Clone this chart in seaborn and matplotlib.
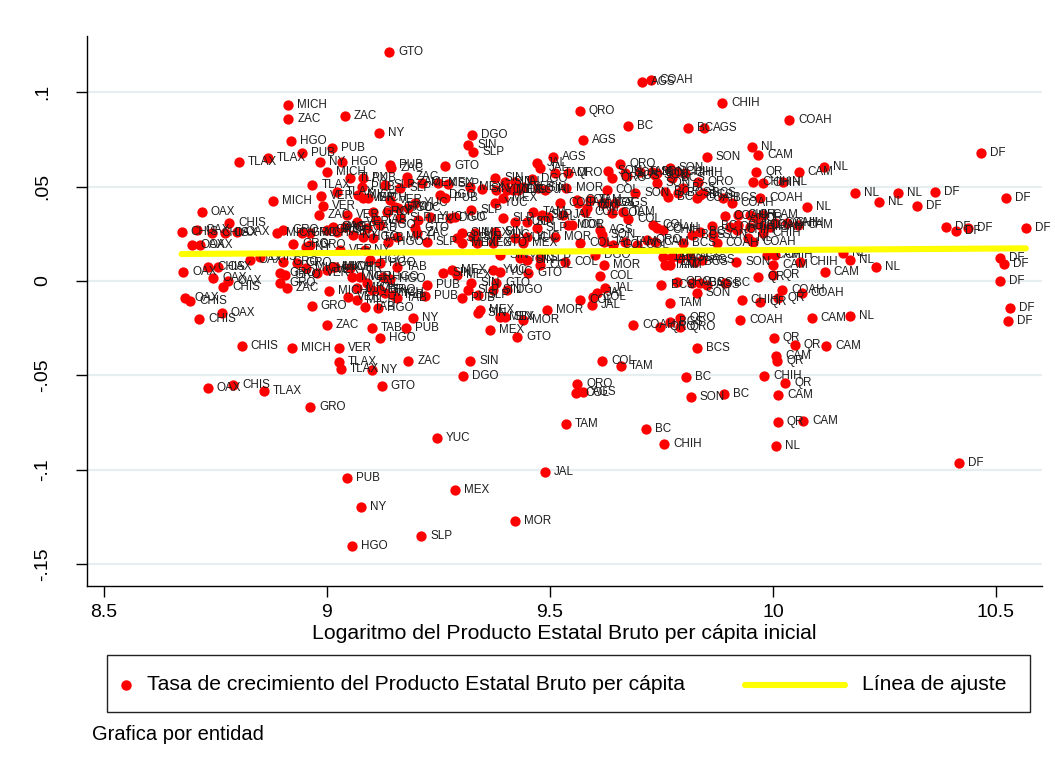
import matplotlib
matplotlib.use("Agg")
import matplotlib.pyplot as plt
from matplotlib.patches import Rectangle
from matplotlib.lines import Line2D
import seaborn as sns
import pandas as pd

# Entidad de cada observación
entidad = [
    "TLAX", "TLAX", "PUB", "HGO", "MICH", "ZAC", "PUB", "NY", "MICH", "TLAX",
    "VER", "VER", "ZAC", "MICH", "OAX", "CHIS", "CHIS", "OAX", "CHIS", "OAX",
    "OAX", "MICH", "GRO", "GRO", "MICH", "GRO", "ZAC", "OAX", "OAX", "GRO",
    "NY", "GRO", "OAX", "CHIS", "CHIS", "OAX", "OAX", "OAX", "OAX", "CHIS",
    "GRO", "GRO", "GRO", "GRO", "GRO", "ZAC", "MICH", "VER", "VER", "MICH",
    "MICH", "OAX", "CHIS", "GRO", "OAX", "CHIS", "ZAC", "CHIS", "MICH", "OAX",
    "CHIS", "TLAX", "GRO",
    "HGO", "PUB", "ZAC", "GTO", "SIN", "SLP", "DGO", "NY", "ZAC", "GTO",
    "TLAX", "PUB", "ZAC", "MEX", "MEX", "SLP", "PUB", "SLP", "SLP", "ZAC",
    "TLAX", "MICH", "VER", "MICH", "VER", "YUC", "DGO", "PUB", "MEX", "SIN",
    "SIN", "YUC", "GTO", "HGO", "YUC", "NY", "SLP", "YUC", "DGO", "VER",
    "VER", "GRO", "TAB", "SLP", "YUC", "MEX", "GTO", "MICH", "VER", "TAB",
    "HGO", "SIN", "MEX", "SIN", "TAB", "NY", "HGO", "TAB", "HGO", "MICH",
    "ZAC", "SLP", "SLP", "MEX", "SIN", "MEX", "VER", "NY", "MICH", "VER",
    "HGO", "HGO", "TAB", "MICH", "VER", "ZAC", "HGO", "HGO", "MICH", "VER",
    "GRO", "MICH", "TAB", "VER", "MICH", "TAB", "HGO", "PUB", "PUB", "SIN",
    "MEX", "MEX", "SIN", "SLP", "SLP", "YUC", "GTO", "SIN", "TAB", "PUB",
    "NY", "MEX", "SIN", "TAB", "HGO", "PUB", "VER", "TLAX", "TLAX", "NY",
    "ZAC", "SIN", "DGO", "GTO", "YUC", "PUB", "MEX", "NY", "HGO", "SLP",
    "MOR", "JAL", "MEX", "GTO",
    "AGS", "AGS", "JAL", "JAL", "TAM", "QRO", "QRO", "BC", "SON", "QRO",
    "QRO", "SON", "AGS", "TAM", "SON", "SON", "SIN", "JAL", "DGO", "YUC",
    "MEX", "YUC", "SLP", "DGO", "SIN", "JAL", "MOR", "COL", "SON", "MEX",
    "COL", "COL", "TAM", "TAM", "AGS", "COL", "AGS", "TAM", "SLP", "JAL",
    "SLP", "YUC", "SIN", "JAL", "MOR", "COL", "COL", "TAM", "COL", "TAM",
    "COL", "AGS", "SLP", "COL", "COAH", "YUC", "MEX", "YUC", "MOR", "COL",
    "SON", "JAL", "COL", "TAM", "COL", "QRO", "CAM", "YUC", "GTO", "SIN",
    "YUC", "SIN", "SLP", "COL", "COL", "DGO", "MOR", "COL", "YUC", "GTO",
    "DGO", "JAL", "JAL", "COL", "JAL", "COL", "MOR", "MEX", "SIN", "MOR",
    "COAH", "QRO", "COL", "AGS", "COL", "TAM", "TAM", "BC",
    "COAH", "AGS", "CHIH", "COAH", "BC", "AGS", "NL", "CAM", "SON", "QR",
    "CAM", "CHIH", "CHIH", "NL", "SON", "CHIH", "BC", "BCS", "CHIH", "QRO",
    "SON", "BCS", "BC", "BC", "BCS", "COAH", "BCS", "BCS", "BCS", "COAH",
    "COAH", "NL", "COAH", "CHIH", "QR", "QR", "CAM", "QR", "CHIH", "CHIH",
    "COAH", "CAM", "COAH", "CHIH", "CAM", "BC", "BC", "CHIH", "BCS", "SON",
    "CHIH", "NL", "CHIH", "BCS", "COAH", "COAH", "TAM", "BCS", "AGS", "AGS",
    "BCS", "AGS", "TAM", "TAM", "SON", "CAM", "CAM", "CHIH", "CHIH", "QR",
    "QR", "BCS", "QRO", "AGS", "BCS", "AGS", "BC", "SON", "COAH", "COAH",
    "QR", "CHIH", "QR", "TAM", "COAH", "CAM", "BCS", "QRO", "QRO", "QRO",
    "BCS", "BC", "SON", "BC", "CHIH", "QR", "CAM", "QR", "CAM", "NL",
    "CHIH", "QR", "CAM", "QR", "QR", "CAM", "NL",
    "DF", "NL", "NL", "NL", "DF", "NL", "DF", "DF", "DF", "DF",
    "DF", "DF", "NL", "NL", "NL", "CAM", "DF", "DF", "DF", "DF",
    "DF", "DF",
]

# Logaritmo del PIB estatal per cápita inicial
log_pib_inicial = [
    8.803, 8.868, 8.943, 8.919, 8.913, 8.913, 9.011, 8.984, 8.999, 8.967,
    8.987, 8.992, 8.981, 8.880, 8.719, 8.780, 8.674, 8.708, 8.742, 8.771,
    8.798, 8.887, 8.902, 8.943, 8.962, 8.999, 9.014, 8.697, 8.715, 8.924,
    8.954, 8.962, 8.827, 8.850, 8.734, 8.756, 8.678, 8.745, 8.779, 8.767,
    8.902, 8.932, 8.895, 8.906, 8.895, 8.910, 8.954, 8.977, 8.999, 9.014,
    9.005, 8.682, 8.693, 8.966, 8.764, 8.713, 8.999, 8.809, 8.922, 8.733,
    8.789, 8.859, 8.962,
    9.033, 9.141, 9.144, 9.265, 9.317, 9.328, 9.325, 9.117, 9.040, 9.139,
    9.052, 9.081, 9.179, 9.212, 9.250, 9.272, 9.078, 9.130, 9.164, 9.182,
    9.022, 9.070, 9.081, 9.093, 9.141, 9.197, 9.253, 9.265, 9.321, 9.347,
    9.377, 9.377, 9.152, 9.160, 9.182, 9.134, 9.324, 9.287, 9.276, 9.044,
    9.067, 9.104, 9.111, 9.164, 9.231, 9.205, 9.197, 9.014, 9.040, 9.089,
    9.119, 9.302, 9.332, 9.377, 9.022, 9.059, 9.081, 9.104, 9.137, 9.156,
    9.201, 9.224, 9.291, 9.302, 9.328, 9.336, 9.029, 9.085, 9.018, 9.052,
    9.096, 9.119, 9.156, 9.055, 9.074, 9.089, 9.126, 9.141, 9.067, 9.100,
    9.119, 9.130, 9.149, 9.048, 9.067, 9.085, 9.115, 9.224, 9.220, 9.261,
    9.280, 9.291, 9.324, 9.317, 9.339, 9.373, 9.380, 9.373, 9.156, 9.302,
    9.193, 9.343, 9.339, 9.100, 9.119, 9.177, 9.027, 9.027, 9.031, 9.101,
    9.182, 9.321, 9.305, 9.123, 9.247, 9.045, 9.287, 9.076, 9.056, 9.211,
    9.422, 9.489, 9.365, 9.426,
    9.575, 9.506, 9.472, 9.478, 9.511, 9.540, 9.567, 9.675, 9.631, 9.638,
    9.657, 9.668, 9.672, 9.702, 9.728, 9.735, 9.399, 9.422, 9.429, 9.380,
    9.403, 9.418, 9.440, 9.459, 9.474, 9.489, 9.537, 9.627, 9.691, 9.395,
    9.522, 9.560, 9.563, 9.590, 9.616, 9.623, 9.646, 9.463, 9.481, 9.496,
    9.395, 9.422, 9.448, 9.530, 9.541, 9.549, 9.579, 9.582, 9.638, 9.664,
    9.676, 9.612, 9.470, 9.732, 9.739, 9.422, 9.440, 9.448, 9.511, 9.567,
    9.616, 9.620, 9.642, 9.668, 9.694, 9.717, 9.735, 9.380, 9.373, 9.388,
    9.433, 9.448, 9.478, 9.478, 9.534, 9.601, 9.620, 9.612, 9.388, 9.451,
    9.403, 9.623, 9.605, 9.597, 9.594, 9.567, 9.493, 9.388, 9.399, 9.440,
    9.687, 9.561, 9.558, 9.574, 9.617, 9.659, 9.536, 9.715,
    9.726, 9.706, 9.886, 10.036, 9.809, 9.845, 9.952, 9.967, 9.851, 9.963,
    10.058, 9.956, 9.978, 10.023, 9.769, 9.784, 9.739, 9.773, 9.803, 9.833,
    9.739, 9.799, 9.758, 9.765, 9.788, 9.829, 9.836, 9.844, 9.889, 9.907,
    9.971, 10.076, 9.892, 9.922, 9.948, 9.963, 9.978, 9.904, 9.922, 9.948,
    9.971, 9.993, 10.005, 10.031, 10.057, 9.863, 9.836, 9.754, 9.818, 9.866,
    9.919, 9.945, 9.978, 9.799, 9.874, 9.956, 9.754, 9.773, 9.792, 9.814,
    9.825, 9.840, 9.758, 9.769, 9.918, 10.001, 9.986, 10.005, 10.061, 9.967,
    10.001, 9.750, 9.784, 9.818, 9.836, 9.851, 9.892, 9.829, 10.020, 10.064,
    10.012, 9.930, 9.971, 9.769, 9.926, 10.087, 9.769, 9.792, 9.792, 9.747,
    9.830, 9.805, 9.816, 9.890, 9.980, 10.027, 10.011, 10.011, 10.067, 10.007,
    9.756, 10.002, 10.007, 10.009, 10.049, 10.119, 10.173,
    10.466, 10.114, 10.184, 10.281, 10.363, 10.238, 10.322, 10.522, 10.388, 10.410,
    10.437, 10.567, 10.158, 10.173, 10.231, 10.116, 10.509, 10.519, 10.509, 10.531,
    10.528, 10.417,
]

# Tasa de crecimiento del PIB estatal per cápita
tasa_crecimiento = [
    0.0632, 0.0650, 0.0680, 0.0742, 0.0932, 0.0858, 0.0704, 0.0632, 0.0579, 0.0508,
    0.0450, 0.0399, 0.0350, 0.0424, 0.0367, 0.0309, 0.0261, 0.0270, 0.0254, 0.0256,
    0.0261, 0.0256, 0.0270, 0.0254, 0.0254, 0.0270, 0.0288, 0.0191, 0.0191, 0.0196,
    0.0182, 0.0191, 0.0111, 0.0129, 0.0076, 0.0076, 0.0046, 0.0014, 0.0002, -0.0030,
    0.0099, 0.0094, 0.0041, 0.0032, -0.0012, -0.0039, 0.0067, 0.0041, 0.0058, 0.0076,
    -0.0051, -0.0092, -0.0104, -0.0132, -0.0171, -0.0201, -0.0233, -0.0344, -0.0355, -0.0567,
    -0.0551, -0.0583, -0.0667,
    0.0629, 0.0614, 0.0599, 0.0611, 0.0720, 0.0685, 0.0773, 0.0784, 0.0874, 0.1213,
    0.0544, 0.0547, 0.0549, 0.0517, 0.0517, 0.0514, 0.0499, 0.0508, 0.0491, 0.0526,
    0.0473, 0.0456, 0.0438, 0.0438, 0.0429, 0.0415, 0.0456, 0.0438, 0.0499, 0.0486,
    0.0544, 0.0412, 0.0394, 0.0385, 0.0385, 0.0367, 0.0376, 0.0341, 0.0332, 0.0350,
    0.0314, 0.0367, 0.0323, 0.0332, 0.0341, 0.0323, 0.0279, 0.0279, 0.0288, 0.0279,
    0.0297, 0.0253, 0.0253, 0.0261, 0.0261, 0.0244, 0.0235, 0.0226, 0.0208, 0.0235,
    0.0253, 0.0208, 0.0226, 0.0200, 0.0235, 0.0200, 0.0164, 0.0164, 0.0076, 0.0067,
    0.0111, 0.0094, 0.0076, 0.0023, 0.0023, -0.0012, 0.0023, 0.0009, -0.0039, -0.0048,
    -0.0048, -0.0065, -0.0074, -0.0083, -0.0101, -0.0136, -0.0145, -0.0021, -0.0079, 0.0041,
    0.0058, 0.0032, -0.0012, -0.0048, -0.0074, 0.0058, -0.0012, -0.0048, -0.0092, -0.0092,
    -0.0198, -0.0154, -0.0171, -0.0251, -0.0302, -0.0249, -0.0355, -0.0429, -0.0466, -0.0471,
    -0.0424, -0.0424, -0.0503, -0.0556, -0.0832, -0.1043, -0.1107, -0.1197, -0.1404, -0.1351,
    -0.1271, -0.1012, -0.0260, -0.0297,
    0.0747, 0.0658, 0.0627, 0.0597, 0.0570, 0.0574, 0.0900, 0.0821, 0.0584, 0.0544,
    0.0620, 0.0570, 0.0556, 0.0579, 0.0579, 0.0561, 0.0526, 0.0526, 0.0482, 0.0482,
    0.0482, 0.0482, 0.0499, 0.0539, 0.0491, 0.0482, 0.0491, 0.0482, 0.0468, 0.0438,
    0.0415, 0.0429, 0.0412, 0.0429, 0.0412, 0.0412, 0.0412, 0.0367, 0.0350, 0.0337,
    0.0332, 0.0314, 0.0314, 0.0350, 0.0297, 0.0297, 0.0367, 0.0385, 0.0362, 0.0367,
    0.0328, 0.0270, 0.0279, 0.0297, 0.0279, 0.0226, 0.0200, 0.0235, 0.0235, 0.0200,
    0.0244, 0.0208, 0.0191, 0.0208, 0.0191, 0.0217, 0.0208, 0.0244, 0.0200, 0.0138,
    0.0120, 0.0111, 0.0120, 0.0085, 0.0102, 0.0138, 0.0085, 0.0028, 0.0049, 0.0041,
    -0.0048, -0.0039, -0.0065, -0.0083, -0.0127, -0.0101, -0.0154, -0.0189, -0.0189, -0.0207,
    -0.0233, -0.0546, -0.0593, -0.0588, -0.0424, -0.0450, -0.0757, -0.0784,
    0.1065, 0.1054, 0.0943, 0.0853, 0.0810, 0.0810, 0.0711, 0.0667, 0.0658, 0.0576,
    0.0576, 0.0526, 0.0517, 0.0526, 0.0597, 0.0579, 0.0570, 0.0544, 0.0570, 0.0526,
    0.0517, 0.0491, 0.0473, 0.0447, 0.0465, 0.0438, 0.0456, 0.0465, 0.0438, 0.0412,
    0.0438, 0.0394, 0.0344, 0.0350, 0.0350, 0.0332, 0.0350, 0.0288, 0.0297, 0.0288,
    0.0297, 0.0288, 0.0306, 0.0306, 0.0297, 0.0291, 0.0261, 0.0270, 0.0244, 0.0244,
    0.0270, 0.0226, 0.0253, 0.0200, 0.0200, 0.0208, 0.0129, 0.0129, 0.0120, 0.0129,
    0.0102, 0.0111, 0.0085, 0.0085, 0.0102, 0.0085, 0.0138, 0.0138, 0.0102, 0.0023,
    0.0032, -0.0021, -0.0004, -0.0012, -0.0012, -0.0021, -0.0012, -0.0065, -0.0048, -0.0065,
    -0.0092, -0.0101, -0.0110, -0.0118, -0.0207, -0.0198, -0.0216, -0.0198, -0.0242, -0.0244,
    -0.0355, -0.0508, -0.0614, -0.0599, -0.0503, -0.0540, -0.0604, -0.0747, -0.0742, -0.0874,
    -0.0863, -0.0302, -0.0397, -0.0424, -0.0339, -0.0344, -0.0185,
    0.0680, 0.0605, 0.0465, 0.0465, 0.0470, 0.0420, 0.0397, 0.0438, 0.0288, 0.0265,
    0.0279, 0.0281, 0.0147, 0.0111, 0.0076, 0.0046, 0.0120, 0.0090, 0.0000, -0.0145,
    -0.0210, -0.0964,
]

# Extremos de la línea de ajuste
ajuste_x = [8.674, 10.567]
ajuste_y = [0.0143, 0.0173]

y_ticks = [-0.15, -0.10, -0.05, 0.0, 0.05, 0.10]
y_tick_labels = ["-.15", "-.1", "-.05", "0", ".05", ".1"]
x_ticks = [8.5, 9.0, 9.5, 10.0, 10.5]
x_tick_labels = ["8.5", "9", "9.5", "10", "10.5"]

df = pd.DataFrame({"entidad": entidad, "x": log_pib_inicial, "y": tasa_crecimiento})
ajuste = pd.DataFrame({"x": ajuste_x, "y": ajuste_y})

sns.set_theme(style="white")
plt.rcParams["font.family"] = ["Liberation Sans", "DejaVu Sans"]

W, H = 1055, 776
fig = plt.figure(figsize=(W / 100, H / 100), dpi=100)
fig.patch.set_facecolor("white")
ax = fig.add_axes([87 / W, 1 - 586 / H, 955 / W, 550.3 / H])

RED = "#ff0000"
YELLOW = "#ffff00"

sns.scatterplot(data=df, x="x", y="y", color=RED, s=55, linewidth=0,
                ax=ax, zorder=3, legend=False)
for lab, xv, yv in zip(df["entidad"], df["x"], df["y"]):
    ax.annotate(lab, (xv, yv), xytext=(6.5, 0), textcoords="offset points",
                fontsize=8.4, color="#1e1e1e", ha="left", va="center",
                zorder=4, annotation_clip=False)

sns.lineplot(data=ajuste, x="x", y="y", color=YELLOW, linewidth=4.4,
             ax=ax, zorder=6, legend=False)

ax.set_xlim(8.4619, 10.6032)
ax.set_ylim(-0.1615, 0.1299)
ax.set_xticks(x_ticks)
ax.set_xticklabels(x_tick_labels, fontsize=14)
ax.set_yticks(y_ticks)
ax.set_yticklabels(y_tick_labels, fontsize=14, rotation=90, va="center")
ax.tick_params(axis="y", direction="out", length=8, width=1, pad=18, colors="black", left=True)
ax.tick_params(axis="x", direction="out", length=8, width=1, pad=5, colors="black", bottom=True)

ax.yaxis.grid(True, color="#e6eef0", linewidth=1.6)
ax.xaxis.grid(False)
ax.set_axisbelow(True)
for side in ("top", "right"):
    ax.spines[side].set_visible(False)
for side in ("left", "bottom"):
    ax.spines[side].set_color("black")
    ax.spines[side].set_linewidth(1)

ax.set_xlabel("Logaritmo del Producto Estatal Bruto per cápita inicial",
              fontsize=15.3, labelpad=2, color="black")
ax.set_ylabel("")

# Leyenda en un recuadro bajo el gráfico
fig.add_artist(Rectangle((107 / W, 1 - 712 / H), 923 / W, 57 / H,
                         transform=fig.transFigure, facecolor="white",
                         edgecolor="#222222", linewidth=1))
ly = 1 - 685 / H
fig.add_artist(Line2D([126 / W], [ly], transform=fig.transFigure, marker="o",
                      markersize=6.5, color=RED, linestyle="none"))
fig.text(147 / W, ly, "Tasa de crecimiento del Producto Estatal Bruto per cápita",
         fontsize=15.2, va="center", ha="left", color="black")
fig.add_artist(Line2D([745 / W, 845 / W], [ly, ly], transform=fig.transFigure,
                      color=YELLOW, linewidth=4.4))
fig.text(862 / W, ly, "Línea de ajuste", fontsize=15.2, va="center", ha="left",
         color="black")

fig.text(92 / W, 1 - 735 / H, "Grafica por entidad", fontsize=14.5,
         va="center", ha="left", color="black")

fig.savefig("out.png", dpi=100, facecolor="white")
